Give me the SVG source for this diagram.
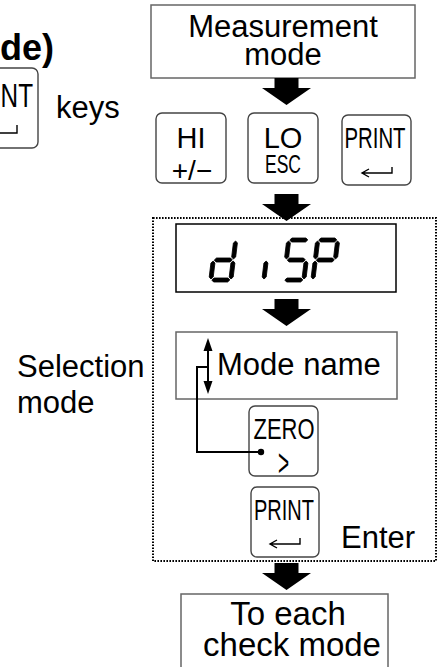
<svg xmlns="http://www.w3.org/2000/svg" width="438" height="667" viewBox="0 0 438 667">
<style>
text{font-family:"Liberation Sans",Arial,sans-serif;fill:#000}
.t31{font-size:31px}
.mid{text-anchor:middle}
.key{font-size:29px}
.cond{font-size:29px}
.box{fill:#fff;stroke:#666;stroke-width:1.5}
.dbox{fill:#fff;stroke:#000;stroke-width:1.5}
.kb{fill:#fff;stroke:#444;stroke-width:1.4}
.ent{fill:none;stroke:#000;stroke-width:1.4}
.seg{fill:#000;stroke:#000;stroke-width:0.8;stroke-linejoin:round}
.conn{fill:none;stroke:#000;stroke-width:2}
</style>
<defs>
<path id="arr" d="M-12,0 H12 V10 H24.5 L0,27 L-24.5,10 H-12 Z" fill="#000"/>
<polygon id="sa" points="3,2 5,0 19,0 21,2 19,4 5,4"/>
<polygon id="sg" points="3,22 5,20 19,20 21,22 19,24 5,24"/>
<polygon id="sd" points="3,42 5,40 19,40 21,42 19,44 5,44"/>
<polygon id="sf" points="2,3 4,5 4,19 2,21 0,19 0,5"/>
<polygon id="sb" points="22,3 24,5 24,19 22,21 20,19 20,5"/>
<polygon id="se" points="2,23 4,25 4,39 2,41 0,39 0,25"/>
<polygon id="sc" points="22,23 24,25 24,39 22,41 20,39 20,25"/>
</defs>
<rect width="438" height="667" fill="#fff"/>

<g id="title">
<text x="0" y="60" style="font-size:36px;font-weight:bold">de)</text>
</g>

<g id="key-print-left">
<rect class="kb" x="-42" y="68" width="80" height="80" rx="6"/>
<text x="-40" y="107" style="font-size:34px" textLength="73" lengthAdjust="spacingAndGlyphs">PRINT</text>
<path class="ent" d="M-10,133 H17 V125"/>
</g>
<g id="keys-label"><text class="t31" x="56" y="118">keys</text></g>

<g id="measurement">
<rect class="box" x="151" y="5" width="264" height="73"/>
<text class="t31 mid" x="283" y="37">Measurement</text>
<text class="t31 mid" x="283" y="65">mode</text>
</g>

<g id="key-hi">
<rect class="kb" x="156" y="113" width="70" height="70" rx="6"/>
<text class="key mid" x="191" y="148">HI</text>
<text class="mid" x="192" y="180" style="font-size:28px">+/−</text>
</g>
<g id="key-lo">
<rect class="kb" x="248" y="113" width="70" height="70" rx="6"/>
<text class="key mid" x="283" y="148">LO</text>
<text class="mid" x="283" y="173" style="font-size:25px" textLength="36" lengthAdjust="spacingAndGlyphs">ESC</text>
</g>
<g id="key-print-top">
<rect class="kb" x="342" y="115" width="69" height="70" rx="6"/>
<text class="cond mid" x="375" y="148" textLength="61" lengthAdjust="spacingAndGlyphs">PRINT</text>
<path class="ent" d="M362,173 H392 V167 M369,169 L362,173 L369,177"/>
</g>

<g id="selection-frame">
<rect x="153" y="218" width="283" height="343" fill="none" stroke="#000" stroke-width="2" stroke-dasharray="1.6 1.4"/>
</g>

<g id="display">
<rect class="dbox" x="176" y="224" width="220" height="68"/>
<g class="seg" transform="translate(214,238) skewX(-7)">
<use href="#sb"/><use href="#sc"/><use href="#sd"/><use href="#se"/><use href="#sg"/>
</g>
<g class="seg" transform="translate(267,238) skewX(-7)">
<use href="#se"/>
</g>
<g class="seg" transform="translate(287,238) skewX(-7)">
<use href="#sa"/><use href="#sf"/><use href="#sg"/><use href="#sc"/><use href="#sd"/>
</g>
<g class="seg" transform="translate(316,238) skewX(-7)">
<use href="#sa"/><use href="#sb"/><use href="#sf"/><use href="#sg"/><use href="#se"/>
</g>
</g>

<g id="mode-name">
<rect class="box" x="176" y="332" width="221" height="67"/>
<text class="t31" x="217" y="375">Mode name</text>
</g>

<g id="key-zero">
<rect class="kb" x="249" y="406" width="69" height="70" rx="6"/>
<text class="cond mid" x="284" y="439" textLength="61" lengthAdjust="spacingAndGlyphs">ZERO</text>
<text class="mid" transform="scale(0.5,1)" x="567" y="476" style="font-size:38px">&gt;</text>
</g>

<g id="key-print-enter">
<rect class="kb" x="251" y="487" width="68" height="70" rx="6"/>
<text class="cond mid" x="284" y="520" textLength="60" lengthAdjust="spacingAndGlyphs">PRINT</text>
<path class="ent" d="M270,544 H300 V538 M277,540 L270,544 L277,548"/>
</g>
<g id="enter-label"><text class="t31" x="341" y="548">Enter</text></g>

<g id="selection-label">
<text class="t31" x="17" y="377">Selection</text>
<text class="t31" x="17" y="413">mode</text>
</g>

<g id="check-mode">
<rect class="box" x="181" y="594" width="207" height="80"/>
<text class="mid" x="288" y="625" style="font-size:33px">To each</text>
<text class="mid" x="292" y="656" style="font-size:33px">check mode</text>
</g>

<g id="connectors">
<use href="#arr" x="286.5" y="78"/>
<use href="#arr" x="286.5" y="194"/>
<use href="#arr" x="286.5" y="299"/>
<use href="#arr" x="286.5" y="563"/>
<path class="conn" d="M208,350 V382"/>
<polygon points="208,338 203.5,351 212.5,351" fill="#000"/>
<polygon points="208,394 203.5,381 212.5,381" fill="#000"/>
<path class="conn" d="M208,367 H197 V452 H261"/>
<circle cx="261" cy="452" r="3.2" fill="#000"/>
</g>
</svg>
